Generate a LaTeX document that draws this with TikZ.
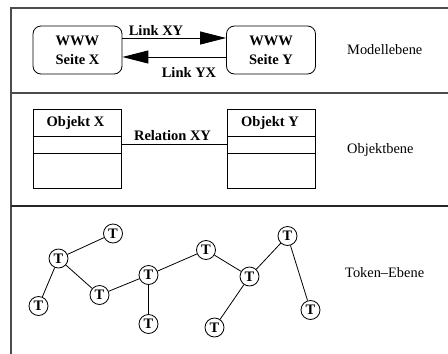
\documentclass[tikz,border=0pt]{standalone}
\usepackage{fontspec}
\setmainfont{Liberation Serif}
\usetikzlibrary{arrows.meta}
\begin{document}
\begin{tikzpicture}[x=1pt,y=-1pt,
  frame/.style={draw=black!70,line width=1.3pt},
  page/.style={draw,rounded corners=8pt,line width=0.8pt,minimum width=89pt,minimum height=48pt,
    align=center,font=\fontsize{14.5}{19}\selectfont\bfseries,inner sep=0pt},
  objbox/.style={draw,line width=0.8pt,minimum width=88pt,minimum height=79pt,inner sep=0pt},
  title/.style={font=\fontsize{14.5}{17}\selectfont\bfseries,inner sep=0pt},
  lbl/.style={font=\fontsize{14.5}{17}\selectfont\bfseries,inner sep=0pt},
  level/.style={font=\fontsize{14.4}{17}\selectfont,anchor=west,inner sep=0pt},
  tok/.style={draw,circle,line width=0.8pt,minimum size=19pt,inner sep=0pt,
    font=\fontsize{14.5}{16}\selectfont\bfseries},
  link/.style={line width=0.9pt,-{Triangle[length=26pt,width=13pt]}},
  edge/.style={line width=0.8pt}]
\useasboundingbox (0,0) rectangle (448,354);

% layer frame
\coordinate (tl) at (11,8);
\coordinate (tr) at (448,8);
\coordinate (bl) at (11,354);
\coordinate (d1l) at (11,93);
\coordinate (d1r) at (448,93);
\coordinate (d2l) at (11,206);
\coordinate (d2r) at (448,206);
\draw[frame] (tr) -- (tl) -- (bl);
\draw[frame] (d1l) -- (d1r);
\draw[frame,draw=black!85] (d2l) -- (d2r);

% model level
\node[page] (mx) at (77.5,50) {WWW\\Seite X};
\node[page] (my) at (271,50) {WWW\\Seite Y};
\draw[link] (mx.east |- 0,38) -- (my.west |- 0,38);
\draw[link] (my.west |- 0,57) -- (mx.east |- 0,57);
\node[lbl] (lxy) at (156,30) {Link XY};
\node[lbl] (lyx) at (189,72) {Link YX};
\node[level] (lm) at (347,50) {Modellebene};

% object level
\node[objbox] (ox) at (77,148.5) {};
\node[objbox] (oy) at (271,148.5) {};
\draw[line width=0.8pt] (ox.west |- 0,136) -- (ox.east |- 0,136)
  (ox.west |- 0,153) -- (ox.east |- 0,153);
\draw[line width=0.8pt] (oy.west |- 0,136) -- (oy.east |- 0,136)
  (oy.west |- 0,153) -- (oy.east |- 0,153);
\node[title] (tx) at (75.5,123) {Objekt X};
\node[title] (ty) at (270,123) {Objekt Y};
\draw[line width=1pt] (ox.east |- 0,144.5) -- (oy.west |- 0,144.5);
\node[lbl] (rel) at (172.5,136) {Relation XY};
\node[level] (lo) at (347,150) {Objektbene};

% token level
\node[tok] (t1) at (113,233.5) {T};
\node[tok] (t2) at (58.5,258.5) {T};
\node[tok] (t3) at (38.5,306) {T};
\node[tok] (t4) at (99.5,295) {T};
\node[tok] (t5) at (148.5,275) {T};
\node[tok] (t6) at (148.5,324) {T};
\node[tok] (t7) at (206,250) {T};
\node[tok] (t8) at (249.5,276.5) {T};
\node[tok] (t9) at (287.5,236) {T};
\node[tok] (t10) at (214.5,327.5) {T};
\node[tok] (t11) at (310.5,310) {T};
\draw[edge] (t1) -- (t2) (t2) -- (t3) (t2) -- (t4) (t4) -- (t5) (t5) -- (t6)
  (t5) -- (t7) (t7) -- (t8) (t8) -- (t9) (t8) -- (t10) (t9) -- (t11);
\node[level] (lt) at (345,273) {Token–Ebene};
\end{tikzpicture}
\end{document}
